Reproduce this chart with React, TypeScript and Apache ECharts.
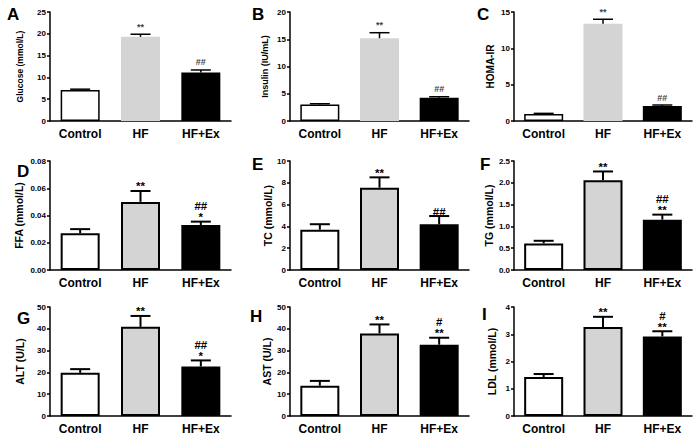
import React, { useEffect, useRef } from "react";
import * as echarts from "echarts";

const categories = ["Control", "HF", "HF+Ex"];

const glucose = [7.1, 19.3, 11.1];
const glucoseSem = [0.2, 0.6, 0.6];
const glucoseSig = ["", "**", "##"];

const insulin = [3.05, 15.2, 4.27];
const insulinSem = [0.12, 1.0, 0.18];
const insulinSig = ["", "**", "##"];

const homaIr = [0.96, 13.4, 2.06];
const homaIrSem = [0.09, 0.6, 0.14];
const homaIrSig = ["", "**", "##"];

const ffa = [0.027, 0.05, 0.033];
const ffaSem = [0.003, 0.008, 0.0025];
const ffaSig = ["", "**", "##\n*"];

const tc = [3.7, 7.55, 4.2];
const tcSem = [0.5, 0.95, 0.75];
const tcSig = ["", "**", "##"];

const tg = [0.61, 2.06, 1.155];
const tgSem = [0.06, 0.2, 0.115];
const tgSig = ["", "**", "##\n**"];

const alt = [19.8, 40.9, 22.7];
const altSem = [1.7, 5.0, 2.8];
const altSig = ["", "**", "##\n*"];

const ast = [13.9, 37.9, 32.7];
const astSem = [2.2, 4.1, 3.2];
const astSig = ["", "**", "#\n**"];

const ldl = [1.43, 3.27, 2.92];
const ldlSem = [0.11, 0.37, 0.19];
const ldlSig = ["", "**", "#\n**"];

const panelLetters = ["A", "B", "C", "D", "E", "F", "G", "H", "I"];
const yNames = [
  "Glucose (mmol/L)",
  "Insulin (IU/mL)",
  "HOMA-IR",
  "FFA (mmol/L)",
  "TC (mmol/L)",
  "TG (mmol/L)",
  "ALT (U/L)",
  "AST (U/L)",
  "LDL (mmol/L)",
];
const yMax = [25, 20, 15, 0.08, 10, 2.5, 50, 50, 4];
const yStep = [5, 5, 5, 0.02, 2, 0.5, 10, 10, 1];
const yDecimals = [0, 0, 0, 2, 0, 1, 0, 0, 0];

const means = [glucose, insulin, homaIr, ffa, tc, tg, alt, ast, ldl];
const sems = [glucoseSem, insulinSem, homaIrSem, ffaSem, tcSem, tgSem, altSem, astSem, ldlSem];
const sigs = [glucoseSig, insulinSig, homaIrSig, ffaSig, tcSig, tgSig, altSig, astSig, ldlSig];

const FONT = '"Liberation Sans", Arial, sans-serif';
const colLeft = [50, 290, 514];
const colWidth = [181, 179, 178];
const rowTop = [12, 161, 307];
const plotH = 109;
const nameGaps = [26, 21, 19, 26, 17, 20, 25, 18, 17];
const nameSizes = [8.5, 9, 10, 10.5, 10.5, 10.5, 10.5, 10.5, 10.5];
const letterPos = [
  [7, 14], [252, 14], [477, 14],
  [17, 171], [252, 164], [480, 164],
  [17, 318], [250, 316], [482, 314],
];
const fills = ["#ffffff", "#d4d4d4", "#000000"];

export default function App() {
  const ref = useRef<HTMLDivElement>(null);
  useEffect(() => {
    document.body.style.margin = "0";
    const chart = echarts.init(ref.current!, null, { renderer: "svg" });
    const grid: any[] = [];
    const xAxis: any[] = [];
    const yAxis: any[] = [];
    const series: any[] = [];
    for (let i = 0; i < 9; i++) {
      const r = Math.floor(i / 3);
      const c = i % 3;
      const topRow = r === 0;
      grid.push({ left: colLeft[c], top: rowTop[r], width: colWidth[c], height: plotH });
      xAxis.push({
        type: "category",
        gridIndex: i,
        data: categories,
        axisLine: { lineStyle: { color: "#000", width: 1.5 } },
        axisTick: { alignWithLabel: true, length: 3, lineStyle: { color: "#000", width: 1.5 } },
        axisLabel: { fontSize: 12, fontWeight: "bold", color: "#000", fontFamily: FONT, margin: 7 },
        splitLine: { show: false },
      });
      yAxis.push({
        type: "value",
        gridIndex: i,
        min: 0,
        max: yMax[i],
        interval: yStep[i],
        axisLine: { show: true, lineStyle: { color: "#000", width: 1.5 } },
        axisTick: { show: true, length: 3, lineStyle: { color: "#000", width: 1.5 } },
        axisLabel: {
          fontSize: 8,
          fontWeight: "bold",
          color: "#000",
          fontFamily: FONT,
          margin: 4,
          formatter: (v: number) => v.toFixed(yDecimals[i]),
        },
        splitLine: { show: false },
        name: yNames[i],
        nameLocation: "middle",
        nameRotate: 90,
        nameGap: nameGaps[i],
        nameTextStyle: { fontSize: nameSizes[i], fontWeight: "bold", color: "#000", fontFamily: FONT },
      });
      series.push({
        type: "bar",
        xAxisIndex: i,
        yAxisIndex: i,
        barWidth: 39,
        z: 2,
        data: means[i].map((v, j) => ({
          value: v,
          itemStyle: topRow
            ? {
                color: fills[j],
                borderColor: "#000",
                borderWidth: j === 0 ? 1.5 : 0,
              }
            : { color: fills[j], borderColor: "#000", borderWidth: 2 },
        })),
      });
      const sigArr = sigs[i];
      series.push({
        type: "custom",
        xAxisIndex: i,
        yAxisIndex: i,
        clip: false,
        z: 3,
        data: means[i].map((m, j) => [j, m, m + sems[i][j]]),
        renderItem: (params: any, api: any) => {
          const j = api.value(0);
          const base = api.coord([j, api.value(1)]);
          const top = api.coord([j, api.value(2)]);
          const lw = topRow ? 1.5 : 2;
          const sig = sigArr[params.dataIndex];
          const children: any[] = [
            {
              type: "line",
              shape: { x1: base[0], y1: base[1], x2: top[0], y2: top[1] },
              style: { stroke: "#000", lineWidth: lw },
            },
            {
              type: "line",
              shape: { x1: top[0] - 10, y1: top[1], x2: top[0] + 10, y2: top[1] },
              style: { stroke: "#000", lineWidth: lw },
            },
          ];
          if (sig) {
            children.push({
              type: "text",
              style: {
                text: sig,
                x: top[0],
                y: top[1] + (topRow ? -2 : 1),
                align: "center",
                verticalAlign: "bottom",
                fontSize: topRow ? 9 : 11.5,
                lineHeight: 11,
                fontWeight: "bold",
                fontFamily: FONT,
                fill: topRow ? "#444" : "#000",
              },
            });
          }
          return { type: "group", children };
        },
      });
    }
    const graphic = panelLetters.map((t, i) => ({
      type: "text",
      x: letterPos[i][0],
      y: letterPos[i][1],
      style: {
        text: t,
        fontSize: 17,
        fontWeight: "bold",
        fontFamily: FONT,
        fill: "#000",
        verticalAlign: "middle",
        align: "left",
      },
    }));
    chart.setOption({
      animation: false,
      backgroundColor: "#fff",
      grid,
      xAxis,
      yAxis,
      series,
      graphic,
    });
    return () => chart.dispose();
  }, []);
  return <div ref={ref} style={{ width: 700, height: 440 }} />;
}
